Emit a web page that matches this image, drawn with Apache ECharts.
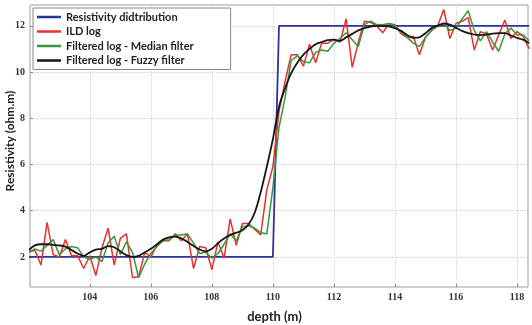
<!DOCTYPE html>
<html>
<head>
<meta charset="UTF-8">
<title>Resistivity log</title>
<script src="https://cdn.jsdelivr.net/npm/echarts/dist/echarts.min.js"></script>
<style>
  body { margin: 0; background: #fff; }
  #chart { width: 532px; height: 325px; }
</style>
</head>
<body>
<div id="chart"></div>
<script type="text/javascript">

  // depth samples (m), every 0.2 m
  var depth = [102.0,102.2,102.4,102.6,102.8,103.0,103.2,103.4,103.6,103.8,
               104.0,104.2,104.4,104.6,104.8,105.0,105.2,105.4,105.6,105.8,
               106.0,106.2,106.4,106.6,106.8,107.0,107.2,107.4,107.6,107.8,
               108.0,108.2,108.4,108.6,108.8,109.0,109.2,109.4,109.6,109.8,
               110.0,110.2,110.4,110.6,110.8,111.0,111.2,111.4,111.6,111.8,
               112.0,112.2,112.4,112.6,112.8,113.0,113.2,113.4,113.6,113.8,
               114.0,114.2,114.4,114.6,114.8,115.0,115.2,115.4,115.6,115.8,
               116.0,116.2,116.4,116.6,116.8,117.0,117.2,117.4,117.6,117.8,
               118.0,118.2,118.4];

  // true resistivity (step)
  var stepDepth = [102.0, 110.0, 110.2, 118.4];
  var stepRes   = [2, 2, 12, 12];

  // ILD log (red)
  var ild = [2.2,2.3,1.65,3.5,2.1,2.0,2.75,2.05,2.05,1.5,
             2.05,1.2,2.4,3.25,1.65,2.8,3.0,1.1,1.15,2.2,
             2.0,2.5,2.7,2.7,3.0,2.7,3.0,1.5,2.45,2.4,
             1.45,2.65,1.95,3.65,2.5,3.45,3.45,3.2,2.95,4.9,
             5.9,8.3,9.6,10.75,10.75,10.25,11.2,10.4,11.25,11.25,
             11.4,11.3,12.3,10.2,11.3,12.2,12.15,12.0,11.7,12.1,
             12.05,11.65,11.5,11.55,10.75,11.5,11.8,12.0,12.7,11.45,
             12.1,12.2,12.35,10.95,11.75,11.65,10.95,11.6,12.25,11.45,
             11.75,11.55,11.0];

  // median filtered (green)
  var median = [2.2,2.35,2.25,2.5,2.75,2.1,2.35,2.45,2.4,2.0,
                1.9,2.0,1.8,2.6,2.9,2.1,2.65,2.2,1.1,1.7,
                2.15,2.45,2.7,2.75,2.95,2.95,3.0,2.6,2.15,2.2,
                1.95,2.15,2.55,3.0,2.7,3.3,3.35,3.25,3.05,3.0,
                5.0,7.6,8.9,10.5,10.7,10.45,10.4,10.85,10.95,10.9,
                11.25,11.45,11.7,11.4,11.1,12.05,12.2,12.05,12.05,12.1,
                12.0,11.75,11.5,11.25,11.1,11.5,11.8,12.0,12.1,11.8,
                11.9,12.3,12.65,11.8,11.35,11.75,11.3,10.9,11.65,11.9,
                11.6,11.6,11.35];

  // fuzzy filtered (black)
  var fuzzy = [2.3,2.5,2.55,2.55,2.52,2.5,2.45,2.3,2.15,2.05,
               2.2,2.32,2.35,2.47,2.42,2.25,2.08,2.0,2.05,2.2,
               2.35,2.55,2.75,2.85,2.88,2.8,2.65,2.48,2.32,2.24,
               2.35,2.6,2.8,2.95,3.05,3.15,3.4,3.9,4.8,5.9,
               7.1,8.5,9.3,9.95,10.4,10.75,11.0,11.2,11.3,11.38,
               11.4,11.35,11.5,11.65,11.8,11.9,11.97,12.0,12.0,11.98,
               11.9,11.78,11.6,11.48,11.5,11.68,11.9,12.0,12.1,12.05,
               11.92,11.78,11.68,11.62,11.6,11.62,11.66,11.68,11.68,11.58,
               11.48,11.4,11.25];

  function pairs(xs, ys) {
    return xs.map(function (x, i) { return [x, ys[i]]; });
  }

  var myChart = echarts.init(document.getElementById('chart'));

  var gridLine = { show: true, lineStyle: { color: '#d0d0d0', type: 'dotted', width: 1 } };

  var option = {
    animation: false,
    grid: { left: 30, right: 4, top: 5, bottom: 38, outerBoundsMode: 'none',
            show: true, borderColor: '#9a9a9a', borderWidth: 1 },
    legend: {
      orient: 'vertical',
      left: 33, top: 8,
      backgroundColor: '#fff',
      borderColor: '#888', borderWidth: 1,
      padding: [3, 37, 3, 4],
      icon: 'rect',
      itemWidth: 24, itemHeight: 2.5, itemGap: 2.5,
      textStyle: { fontFamily: 'Lato', fontWeight: 'bold', fontSize: 11, color: '#222', lineHeight: 12 },
      data: ['Resistivity didtribution', 'ILD log', 'Filtered log - Median filter', 'Filtered log - Fuzzy filter']
    },
    xAxis: {
      type: 'value',
      min: 102.04, max: 118.36,
      splitNumber: 8,
      name: 'depth (m)',
      nameLocation: 'middle',
      nameGap: 23,
      nameTextStyle: { fontFamily: 'Lato', fontWeight: 'bold', fontSize: 13, color: '#222', padding: [0, 9, 0, 0] },
      axisLine: { show: false },
      axisTick: { show: true, inside: true, length: 3, lineStyle: { color: '#888' } },
      axisLabel: { showMinLabel: false, showMaxLabel: false, margin: 5,
                   fontFamily: 'Liberation Serif', fontWeight: 'bold', fontSize: 10, color: '#333' },
      splitLine: gridLine
    },
    yAxis: {
      type: 'value',
      min: 0.7, max: 12.9,
      splitNumber: 6,
      name: 'Resistivity (ohm.m)',
      nameLocation: 'middle',
      nameMoveOverlap: false,
      nameGap: 14,
      nameTextStyle: { fontFamily: 'Lato', fontWeight: 'bold', fontSize: 12, color: '#222', padding: [0, 0, 0, 10] },
      axisLine: { show: false },
      axisTick: { show: true, inside: true, length: 3, lineStyle: { color: '#888' } },
      axisLabel: { showMinLabel: false, showMaxLabel: false, margin: 5,
                   fontFamily: 'Liberation Serif', fontWeight: 'bold', fontSize: 10, color: '#333' },
      splitLine: gridLine
    },
    series: [
      {
        name: 'Resistivity didtribution', type: 'line', symbol: 'none',
        color: '#2a36a0', lineStyle: { width: 1.8 },
        data: pairs(stepDepth, stepRes)
      },
      {
        name: 'ILD log', type: 'line', symbol: 'none',
        color: '#e8302c', lineStyle: { width: 1.5 },
        data: pairs(depth, ild)
      },
      {
        name: 'Filtered log - Median filter', type: 'line', symbol: 'none',
        color: '#3a963a', lineStyle: { width: 1.5 },
        data: pairs(depth, median)
      },
      {
        name: 'Filtered log - Fuzzy filter', type: 'line', symbol: 'none', smooth: 0.3,
        color: '#161616', lineStyle: { width: 1.8 },
        data: pairs(depth, fuzzy)
      }
    ]
  };

  myChart.setOption(option);

</script>
</body>
</html>
